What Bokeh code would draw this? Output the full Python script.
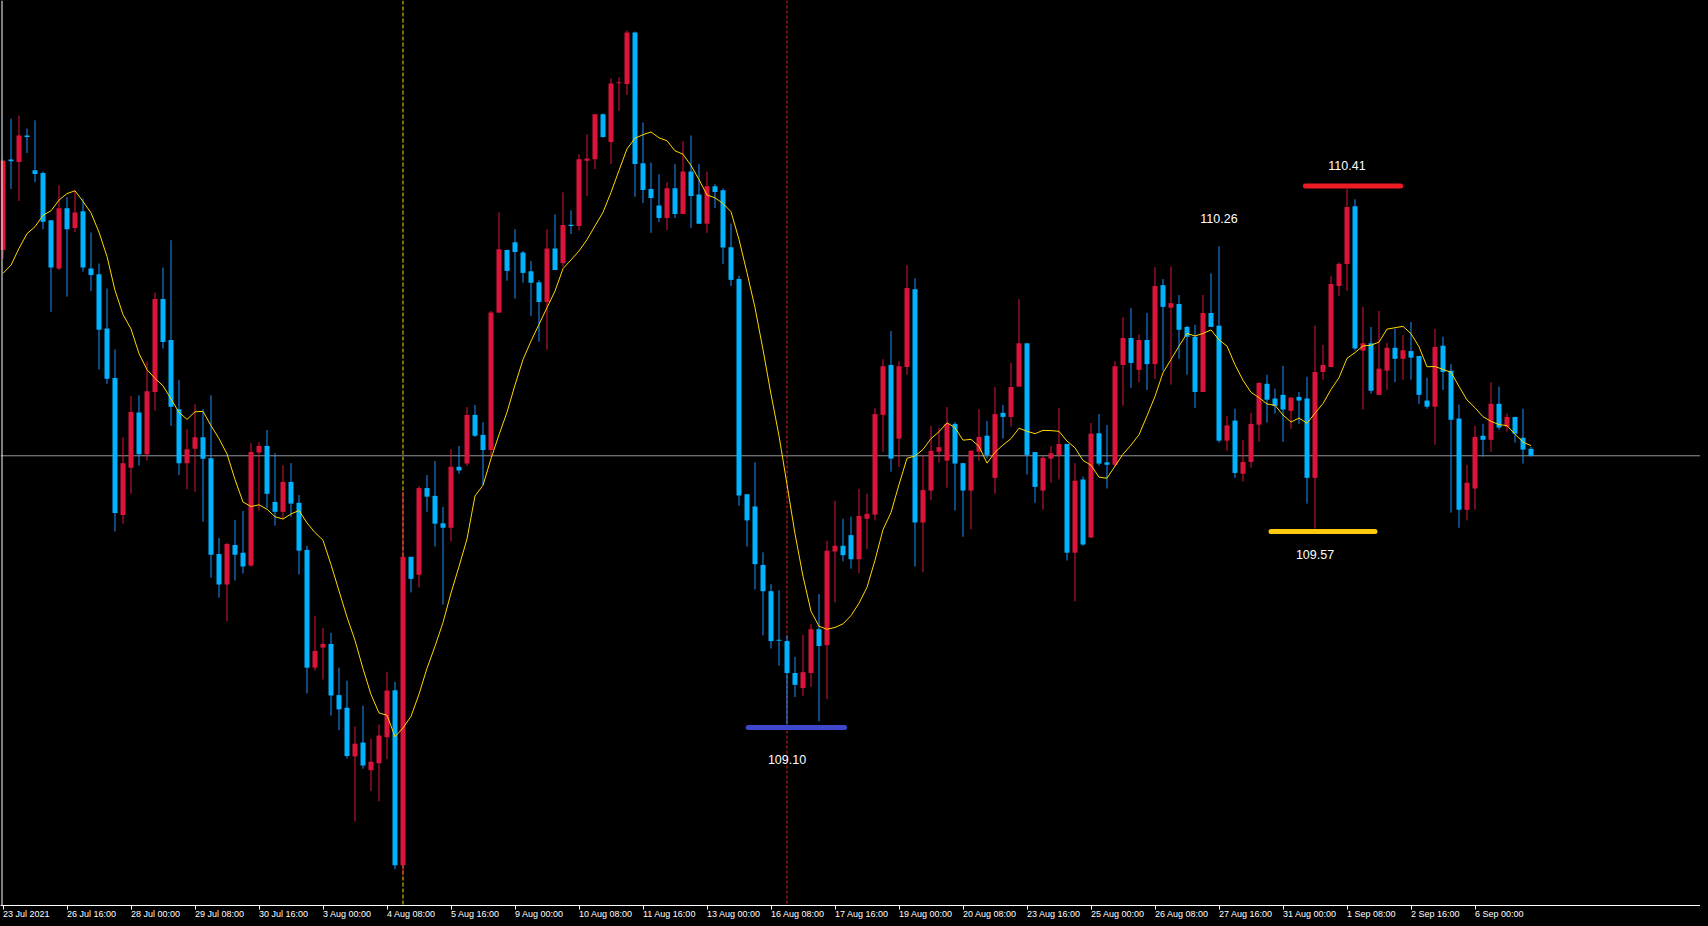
import numpy as np
import pandas as pd
from bokeh.plotting import figure
from bokeh.models import ColumnDataSource, Range1d, FixedTicker, Span
from bokeh.core.properties import value
from bokeh.embed import file_html
from bokeh.resources import INLINE

# ---------------- data (USDJPY H4) ----------------
opens = [110.256,110.477,110.471,110.536,110.451,110.444,110.329,110.211,110.358,110.310,
         110.351,110.211,110.197,110.064,109.943,109.608,109.724,109.859,109.757,109.909,
         110.136,110.036,109.867,109.735,109.770,109.798,109.747,109.513,109.438,109.535,
         109.516,109.485,109.761,109.777,109.640,109.616,109.689,109.638,109.523,109.235,
         109.284,109.293,109.168,109.137,109.018,109.052,108.984,109.001,109.065,109.180,
         108.752,109.506,109.462,109.674,109.655,109.588,109.577,109.726,109.734,109.853,
         109.804,109.767,110.103,110.256,110.275,110.250,110.204,110.177,110.129,110.260,
         110.224,110.318,110.315,110.474,110.478,110.588,110.520,110.664,110.662,110.788,
         110.468,110.405,110.365,110.334,110.407,110.344,110.448,110.392,110.320,110.412,
         110.402,110.263,110.185,109.659,109.629,109.486,109.422,109.303,109.300,109.222,
         109.185,109.222,109.329,109.290,109.519,109.533,109.559,109.500,109.599,109.609,
         109.853,109.975,109.795,109.970,110.160,109.590,109.668,109.763,109.741,109.831,
         109.735,109.668,109.763,109.802,109.699,109.858,109.848,109.922,110.028,109.762,
         109.668,109.746,109.755,109.782,109.516,109.695,109.553,109.808,109.737,109.731,
         109.975,110.041,109.963,110.036,109.977,110.170,110.115,110.124,110.068,110.044,
         109.909,110.102,110.071,109.790,109.839,109.709,109.738,109.829,109.929,109.893,
         109.902,109.863,109.897,109.893,109.699,109.958,109.970,110.168,110.222,110.363,
         110.010,110.028,109.902,109.961,110.017,109.990,110.009,109.997,109.888,109.873,
         110.022,109.961,109.844,109.621,109.673,109.802,109.792,109.880,109.824,109.848,
         109.797,109.770]
highs = [110.477,110.577,110.585,110.553,110.573,110.448,110.329,110.414,110.385,110.402,
         110.382,110.299,110.223,110.162,110.013,109.798,109.899,109.901,109.983,110.152,
         110.213,110.280,109.938,109.818,109.879,109.867,109.901,109.552,109.540,109.596,
         109.618,109.784,109.787,109.816,109.759,109.730,109.735,109.657,109.533,109.362,
         109.332,109.320,109.235,109.203,109.091,109.142,109.061,109.096,109.225,109.200,
         109.665,109.506,109.679,109.706,109.740,109.628,109.769,109.777,109.872,109.877,
         109.835,110.107,110.348,110.257,110.307,110.254,110.229,110.182,110.307,110.343,
         110.397,110.353,110.490,110.539,110.589,110.590,110.676,110.678,110.793,110.790,
         110.568,110.470,110.441,110.422,110.466,110.522,110.536,110.466,110.448,110.417,
         110.407,110.321,110.193,109.659,109.737,109.517,109.439,109.424,109.314,109.261,
         109.315,109.342,109.415,109.545,109.643,109.599,109.604,109.672,109.660,109.870,
         109.989,110.058,109.984,110.219,110.187,109.755,109.826,109.821,109.872,109.835,
         109.735,109.767,109.867,109.838,109.921,109.877,109.980,110.136,110.028,109.762,
         109.752,109.777,109.870,109.782,109.735,109.702,109.833,109.855,109.828,109.984,
         110.092,110.114,110.050,110.102,110.214,110.185,110.216,110.146,110.071,110.073,
         110.146,110.199,110.265,109.850,109.868,109.792,109.858,109.933,109.951,109.917,
         109.973,109.897,109.909,109.946,110.071,110.024,110.192,110.226,110.405,110.380,
         110.117,110.068,110.107,110.029,110.063,110.048,110.080,109.997,109.944,110.063,
         110.044,109.977,109.878,109.731,109.826,109.831,109.933,109.922,109.856,109.848,
         109.868,109.775]
lows = [110.234,110.405,110.376,110.493,110.422,110.307,110.105,110.207,110.142,110.300,
        110.203,110.156,109.964,109.929,109.568,109.587,109.660,109.729,109.741,109.863,
        110.015,109.826,109.706,109.671,109.665,109.592,109.455,109.406,109.348,109.448,
        109.465,109.482,109.619,109.625,109.582,109.599,109.604,109.463,109.172,109.228,
        109.206,109.118,109.082,109.013,108.859,108.988,108.933,108.908,109.011,108.742,
        108.727,109.419,109.431,109.616,109.531,109.389,109.543,109.709,109.728,109.799,
        109.682,109.751,110.103,110.181,110.137,110.176,110.095,110.032,110.012,110.207,
        110.215,110.295,110.304,110.388,110.454,110.531,110.466,110.596,110.635,110.386,
        110.371,110.298,110.325,110.305,110.334,110.344,110.310,110.320,110.298,110.359,
        110.222,110.168,109.631,109.531,109.426,109.314,109.282,109.240,109.096,109.163,
        109.166,109.188,109.104,109.158,109.395,109.495,109.477,109.466,109.525,109.595,
        109.763,109.714,109.726,109.951,109.482,109.468,109.644,109.736,109.675,109.619,
        109.555,109.573,109.741,109.746,109.660,109.795,109.824,109.922,109.707,109.638,
        109.621,109.687,109.695,109.497,109.397,109.533,109.553,109.729,109.673,109.726,
        109.875,109.919,109.933,109.914,109.941,109.961,109.927,109.990,109.951,109.870,
        109.909,110.068,109.785,109.765,109.699,109.690,109.724,109.787,109.834,109.856,
        109.787,109.819,109.831,109.636,109.575,109.939,109.970,110.144,110.156,110.010,
        109.866,109.905,109.902,109.914,109.933,109.939,109.939,109.880,109.868,109.780,
        109.914,109.614,109.577,109.595,109.621,109.751,109.763,109.817,109.812,109.785,
        109.734,109.751]
closes = [110.474,110.473,110.536,110.532,110.442,110.325,110.213,110.358,110.307,110.348,
          110.213,110.195,110.061,109.941,109.613,109.735,109.860,109.757,109.911,110.136,
          110.031,109.873,109.735,109.769,109.798,109.746,109.511,109.438,109.537,109.511,
          109.482,109.762,109.777,109.660,109.616,109.689,109.636,109.521,109.235,109.276,
          109.293,109.167,109.133,109.019,109.049,108.996,109.005,109.069,109.179,108.752,
          109.506,109.452,109.674,109.653,109.587,109.577,109.726,109.717,109.853,109.802,
          109.767,110.103,110.258,110.205,110.251,110.200,110.176,110.129,110.260,110.207,
          110.317,110.315,110.478,110.480,110.588,110.532,110.663,110.666,110.788,110.466,
          110.403,110.383,110.334,110.407,110.344,110.448,110.388,110.320,110.412,110.398,
          110.262,110.183,109.656,109.595,109.488,109.422,109.300,109.301,109.222,109.193,
          109.224,109.329,109.288,109.521,109.533,109.510,109.500,109.606,109.611,109.855,
          109.972,109.746,109.972,110.163,109.590,109.669,109.765,109.774,109.831,109.734,
          109.668,109.765,109.799,109.755,109.855,109.848,109.921,110.028,109.755,109.677,
          109.748,109.759,109.782,109.516,109.692,109.536,109.807,109.734,109.731,109.972,
          110.041,109.980,110.036,109.977,110.168,110.117,110.126,110.061,110.044,109.909,
          110.102,110.068,109.790,109.827,109.711,109.738,109.831,109.931,109.890,109.875,
          109.866,109.895,109.888,109.699,109.958,109.975,110.173,110.222,110.361,110.015,
          110.028,109.912,109.966,110.017,109.990,110.011,109.993,109.902,109.873,110.019,
          109.958,109.841,109.621,109.687,109.799,109.792,109.880,109.822,109.848,109.807,
          109.768,109.753]
# moving average (10) values already present on the chart before the first visible bars
ma_lead = [110.199, 110.219, 110.260, 110.296, 110.313, 110.341, 110.352, 110.378, 110.394]
ma_period = 10

tick_labels = ["23 Jul 2021", "26 Jul 16:00", "28 Jul 00:00", "29 Jul 08:00", "30 Jul 16:00",
               "3 Aug 00:00", "4 Aug 08:00", "5 Aug 16:00", "9 Aug 00:00", "10 Aug 08:00",
               "11 Aug 16:00", "13 Aug 00:00", "16 Aug 08:00", "17 Aug 16:00", "19 Aug 00:00",
               "20 Aug 08:00", "23 Aug 16:00", "25 Aug 00:00", "26 Aug 08:00", "27 Aug 16:00",
               "31 Aug 00:00", "1 Sep 08:00", "2 Sep 16:00", "6 Sep 00:00"]
bars_per_label = 8

# hand-drawn marks: (label text, bar index, side)
marker_text = ["110.41", "109.10", "109.57"]
marker_bar = [168, 98, 164]
marker_side = ["high", "low", "low"]
note_text = ["110.26"]
note_bar = [152]

# ---------------- styling ----------------
RED = "#DC143C"
BODY_BLUE = "#00B2FF"
WICK_BLUE = "#1E90FF"
MA_COLOR = "#FFD700"

n = len(closes)
idx = np.arange(n)
o = np.array(opens); h = np.array(highs); l = np.array(lows); c = np.array(closes)
up = c >= o

FIG_W, FIG_H = 1700, 926
BOTTOM = 20
FRAME_W, FRAME_H = FIG_W, FIG_H - BOTTOM
x0 = -0.3125
x1 = x0 + FRAME_W / 8.0
y_top = 110.866
ppu = 409.5                            # pixels per price unit
y_bot = y_top - FRAME_H / ppu

body_top = np.maximum(o, c)
body_bot = np.minimum(o, c)
min_h = 1.0 / ppu
small = (body_top - body_bot) < min_h
mid = (body_top + body_bot) / 2
body_top = np.where(small, mid + min_h / 2, body_top)
body_bot = np.where(small, mid - min_h / 2, body_bot)

ma = pd.Series(c).rolling(ma_period).mean().to_numpy()
ma[:ma_period - 1] = ma_lead

src = ColumnDataSource(dict(
    x=idx, o=o, h=h, l=l, c=c, top=body_top, bottom=body_bot,
    body_color=[RED if u else BODY_BLUE for u in up],
    wick_color=[RED if u else WICK_BLUE for u in up],
))

p = figure(width=FIG_W, height=FIG_H, x_range=Range1d(x0, x1), y_range=Range1d(y_bot, y_top),
           background_fill_color="#000000", border_fill_color="#000000",
           outline_line_color=None, toolbar_location=None, output_backend="svg",
           min_border_left=0, min_border_right=0, min_border_top=0, min_border_bottom=BOTTOM,
           y_axis_location=None)
p.xgrid.visible = False
p.ygrid.visible = False

try:
    from bokeh.models import GlobalInlineStyleSheet
    p.stylesheets = [GlobalInlineStyleSheet(css="html, body { background-color: #000000; }")]
except Exception:
    pass

# background lines
bid = Span(location=closes[-1], dimension="width", line_color="#8F959C", line_width=1, level="underlay")
p.add_layout(bid)
vline1 = Span(location=50, dimension="height", line_color="#FFD700", line_width=1,
              line_dash="4 2", level="underlay")
p.add_layout(vline1)
vline2 = Span(location=98, dimension="height", line_color="#E0202A", line_width=1,
              line_dash="3 2", level="underlay")
p.add_layout(vline2)

# candles
p.segment(x0="x", y0="l", x1="x", y1="h", line_color="wick_color", line_width=1, source=src)
p.vbar(x="x", width=0.625, top="top", bottom="bottom", fill_color="body_color",
       line_color=None, source=src)

# moving average
p.line(idx, ma, line_color=MA_COLOR, line_width=1)

# left frame
p.add_layout(Span(location=x0 + 1.5 / 8.0, dimension="height", line_color="#FFFFFF", line_width=1))

# hand-drawn marker lines and labels
mk_colors = ["#ED1C24", "#3F48CC", "#FFC90E"]
mk_span = [(-5.2, 6.7), (-4.85, 7.2), (-5.5, 7.5)]
mk_text_dy = [-23.3, 34.5, 26.3]
for t, b, side, col, (a0, a1), dy in zip(marker_text, marker_bar, marker_side, mk_colors, mk_span, mk_text_dy):
    yv = h[b] + 3 / ppu if side == "high" else l[b] - 3 / ppu
    p.segment(x0=[b + a0], y0=[yv], x1=[b + a1], y1=[yv], line_color=col, line_width=5,
              line_cap="round")
    base = h[b] if side == "high" else l[b]
    p.text(x=[b], y=[base], text=[t], y_offset=dy, text_color="#FFFFFF",
           text_font=value("Liberation Sans"), text_font_size=value("12.5px"),
           text_align="center", text_baseline="middle")
for t, b in zip(note_text, note_bar):
    p.text(x=[b], y=[h[b]], text=[t], y_offset=-27.7, text_color="#FFFFFF",
           text_font=value("Liberation Sans"), text_font_size=value("12.5px"),
           text_align="center", text_baseline="middle")

# time axis
ticks = [k * bars_per_label for k in range(len(tick_labels))]
ax = p.xaxis[0]
ax.ticker = FixedTicker(ticks=ticks)
ax.major_label_overrides = {t: lab for t, lab in zip(ticks, tick_labels)}
ax.major_label_orientation = -0.0001     # practically horizontal, anchors labels at their left end
ax.major_label_text_font = "Liberation Sans"
ax.major_label_text_font_size = "9px"
ax.major_label_text_color = "#FFFFFF"
ax.major_label_standoff = 4
ax.axis_line_color = "#FFFFFF"
ax.major_tick_line_color = "#FFFFFF"
ax.major_tick_out = 4
ax.major_tick_in = 0
ax.minor_tick_line_color = None

open("out.html", "w").write(file_html(p, INLINE))
